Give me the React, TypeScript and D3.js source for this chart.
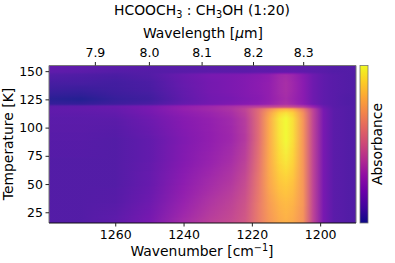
import * as d3 from "d3";
import React, { useEffect, useRef } from "react";

// wavenumber grid of the spectra, cm-1
const wavenumbers = [1280, 1270, 1260, 1250, 1240, 1232, 1226, 1222, 1218, 1215, 1212, 1210, 1208, 1205, 1202, 1199, 1196, 1192, 1189];

// temperature of each spectrum, K
const temperatures = [155, 149, 147, 140, 132, 125, 120.5, 119, 117.8, 116.8, 113, 108, 90, 70, 50, 32, 15];

// absorbance (normalised), one spectrum per temperature
const t155 = [0.14, 0.13, 0.12, 0.11, 0.11, 0.11, 0.11, 0.11, 0.12, 0.12, 0.13, 0.13, 0.13, 0.12, 0.12, 0.11, 0.1, 0.1, 0.1];
const t149 = [0.13, 0.12, 0.1, 0.1, 0.11, 0.12, 0.12, 0.12, 0.13, 0.13, 0.14, 0.14, 0.14, 0.13, 0.12, 0.11, 0.1, 0.1, 0.1];
const t147 = [0.1, 0.09, 0.08, 0.1, 0.16, 0.2, 0.21, 0.22, 0.24, 0.26, 0.31, 0.32, 0.3, 0.24, 0.17, 0.13, 0.11, 0.1, 0.09];
const t140 = [0.07, 0.07, 0.06, 0.08, 0.15, 0.19, 0.21, 0.23, 0.25, 0.27, 0.32, 0.34, 0.31, 0.25, 0.17, 0.13, 0.11, 0.1, 0.09];
const t132 = [0.04, 0.03, 0.05, 0.07, 0.14, 0.19, 0.21, 0.23, 0.25, 0.27, 0.32, 0.34, 0.31, 0.25, 0.17, 0.13, 0.11, 0.1, 0.09];
const t125 = [0.01, 0, 0.03, 0.05, 0.13, 0.18, 0.2, 0.22, 0.24, 0.27, 0.31, 0.33, 0.3, 0.25, 0.17, 0.13, 0.11, 0.09, 0.09];
const t120 = [0.03, 0.03, 0.05, 0.08, 0.15, 0.19, 0.22, 0.24, 0.26, 0.29, 0.33, 0.35, 0.32, 0.26, 0.18, 0.13, 0.11, 0.09, 0.09];
const t119 = [0.12, 0.13, 0.15, 0.19, 0.27, 0.31, 0.34, 0.37, 0.4, 0.42, 0.44, 0.45, 0.43, 0.38, 0.28, 0.16, 0.11, 0.1, 0.09];
const t118 = [0.13, 0.14, 0.16, 0.2, 0.27, 0.31, 0.35, 0.38, 0.42, 0.44, 0.47, 0.48, 0.46, 0.4, 0.29, 0.17, 0.11, 0.1, 0.09];
const t117 = [0.13, 0.14, 0.15, 0.2, 0.28, 0.32, 0.36, 0.42, 0.56, 0.68, 0.78, 0.8, 0.77, 0.62, 0.4, 0.19, 0.12, 0.1, 0.09];
const t113 = [0.13, 0.13, 0.14, 0.19, 0.26, 0.3, 0.34, 0.41, 0.58, 0.75, 0.9, 0.94, 0.89, 0.7, 0.42, 0.2, 0.12, 0.1, 0.09];
const t108 = [0.12, 0.12, 0.12, 0.17, 0.24, 0.28, 0.32, 0.39, 0.58, 0.78, 0.95, 1, 0.93, 0.72, 0.42, 0.2, 0.12, 0.1, 0.09];
const t90 = [0.11, 0.11, 0.1, 0.14, 0.22, 0.27, 0.31, 0.38, 0.58, 0.78, 0.94, 1, 0.93, 0.72, 0.42, 0.2, 0.12, 0.1, 0.09];
const t70 = [0.1, 0.1, 0.1, 0.14, 0.23, 0.29, 0.34, 0.41, 0.6, 0.78, 0.91, 0.95, 0.9, 0.72, 0.42, 0.2, 0.12, 0.1, 0.09];
const t50 = [0.1, 0.1, 0.1, 0.15, 0.26, 0.33, 0.38, 0.45, 0.62, 0.77, 0.86, 0.88, 0.85, 0.72, 0.42, 0.2, 0.12, 0.1, 0.09];
const t32 = [0.1, 0.1, 0.11, 0.17, 0.29, 0.37, 0.42, 0.48, 0.63, 0.74, 0.81, 0.83, 0.81, 0.72, 0.42, 0.2, 0.12, 0.1, 0.09];
const t15 = [0.1, 0.1, 0.13, 0.2, 0.33, 0.41, 0.45, 0.5, 0.63, 0.72, 0.78, 0.8, 0.78, 0.71, 0.42, 0.2, 0.12, 0.1, 0.09];
const spectra = [t155, t149, t147, t140, t132, t125, t120, t119, t118, t117, t113, t108, t90, t70, t50, t32, t15];

const wavenumberTicks = [1260, 1240, 1220, 1200];
const wavelengthTicks = [7.9, 8.0, 8.1, 8.2, 8.3];
const temperatureTicks = [25, 50, 75, 100, 125, 150];

const width = 395;
const height = 263;
const plot = { left: 49, right: 356, top: 65.5, bottom: 223 };
const bar = { left: 360, right: 368 };
const font = "'DejaVu Sans', sans-serif";
const tickSize = 12.5;
const labelSize = 13.9;

const xScale = d3.scaleLinear().domain([1279.4, 1189.5]).range([plot.left, plot.right]);
const yScale = d3.scaleLinear().domain([155, 15.5]).range([plot.top, plot.bottom]);
// the top axis is the same one, labelled in micron
const waveScale = (um: number) => xScale(1e4 / um);

// same as imshow with interpolation: each column is piecewise linear in temperature
const columns = wavenumbers.map((_, j) =>
  d3.scaleLinear().domain(temperatures).range(spectra.map((row) => row[j])).clamp(true)
);
const slices = d3.range(plot.top, plot.bottom, 1);
const x0 = xScale(wavenumbers[0]);
const x1 = xScale(wavenumbers[wavenumbers.length - 1]);

export default function App() {
  const axes = useRef<SVGGElement>(null);

  useEffect(() => {
    const g = d3.select(axes.current);
    g.selectAll("*").remove();

    const style = (sel: any) => {
      sel.select(".domain").remove();
      sel.selectAll("text").attr("font-family", font).attr("font-size", tickSize).attr("fill", "#000");
      sel.selectAll("line").attr("stroke", "#222");
    };

    g.append("g")
      .attr("transform", `translate(0,${plot.bottom})`)
      .call(d3.axisBottom(xScale).tickValues(wavenumberTicks).tickFormat(d3.format("d")).tickSize(3.5).tickPadding(4))
      .call(style);

    g.append("g")
      .attr("transform", `translate(${plot.left},0)`)
      .call(d3.axisLeft(yScale).tickValues(temperatureTicks).tickFormat(d3.format("d")).tickSize(3.5).tickPadding(2.5))
      .call(style);

    const top = g.append("g").attr("transform", `translate(0,${plot.top})`);
    top
      .selectAll("g")
      .data(wavelengthTicks)
      .enter()
      .append("g")
      .attr("transform", (d) => `translate(${waveScale(d)},0)`)
      .call((t) => t.append("line").attr("y2", -3.5).attr("stroke", "#222"))
      .call((t) =>
        t
          .append("text")
          .attr("y", -8.5)
          .attr("text-anchor", "middle")
          .attr("font-family", font)
          .attr("font-size", tickSize)
          .text((d) => d.toFixed(1))
      );
  }, []);

  const barStops = d3.range(0, 1.01, 0.1);

  return (
    <svg width={width} height={height} style={{ position: "absolute", left: 0, top: 0 }}>
      <defs>
        {slices.map((y, i) => {
          const t = yScale.invert(y + 0.5);
          return (
            <linearGradient key={i} id={`row${i}`} gradientUnits="userSpaceOnUse" x1={x0} x2={x1} y1={0} y2={0}>
              {columns.map((col, j) => (
                <stop key={j} offset={(xScale(wavenumbers[j]) - x0) / (x1 - x0)} stopColor={d3.interpolatePlasma(col(t))} />
              ))}
            </linearGradient>
          );
        })}
        <linearGradient id="cbar" x1="0" x2="0" y1="1" y2="0">
          {barStops.map((s) => (
            <stop key={s} offset={s} stopColor={d3.interpolatePlasma(s)} />
          ))}
        </linearGradient>
        <clipPath id="plotClip">
          <rect x={plot.left} y={plot.top} width={plot.right - plot.left} height={plot.bottom - plot.top} />
        </clipPath>
      </defs>

      <g clipPath="url(#plotClip)">
        {slices.map((y, i) => (
          <rect key={i} x={plot.left} width={plot.right - plot.left} y={y} height={1.3} fill={`url(#row${i})`} />
        ))}
      </g>

      <rect x={bar.left} y={plot.top} width={bar.right - bar.left} height={plot.bottom - plot.top} fill="url(#cbar)" stroke="#777" strokeWidth={0.8} />

      {/* spines */}
      <path d={`M${plot.left},${plot.bottom}V${plot.top}H${plot.right}V${plot.bottom}`} fill="none" stroke="#777" strokeWidth={1} />
      <path d={`M${plot.left},${plot.bottom}H${plot.right}`} fill="none" stroke="#111" strokeWidth={1} />

      <g ref={axes} />

      <g fontFamily={font} fill="#000">
        <text x={202} y={15} textAnchor="middle" fontSize={labelSize}>
          HCOOCH<tspan dy={2.5} fontSize={9.7}>3</tspan>
          <tspan dy={-2.5}> : CH</tspan>
          <tspan dy={2.5} fontSize={9.7}>3</tspan>
          <tspan dy={-2.5}>OH (1:20)</tspan>
        </text>
        <text x={203} y={37.5} textAnchor="middle" fontSize={labelSize}>
          Wavelength [<tspan fontStyle="italic">μ</tspan>m]
        </text>
        <text x={202} y={256} textAnchor="middle" fontSize={labelSize}>
          Wavenumber [cm<tspan dy={-5} fontSize={9.7}>−1</tspan>
          <tspan dy={5}>]</tspan>
        </text>
        <text transform={`translate(13,144) rotate(-90)`} textAnchor="middle" fontSize={labelSize}>
          Temperature [K]
        </text>
        <text transform={`translate(382,144) rotate(-90)`} textAnchor="middle" fontSize={labelSize}>
          Absorbance
        </text>
      </g>
    </svg>
  );
}
